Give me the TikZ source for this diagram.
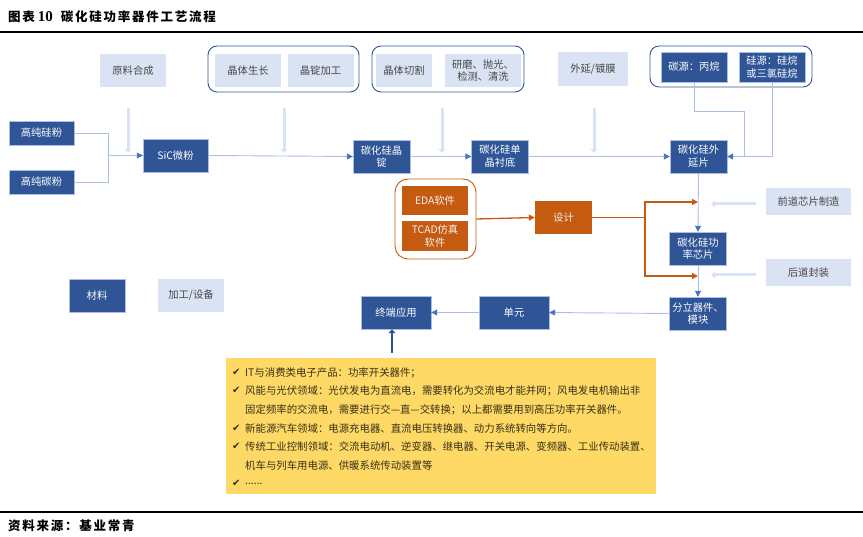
\documentclass[tikz,border=0pt]{standalone}
\usepackage{fontspec}
\setmainfont{Noto Sans CJK SC}
\newfontfamily\titlefont[BoldFeatures={LetterSpace=14}]{Noto Sans CJK SC}
\newfontfamily\digitfont{Liberation Serif}
\newfontfamily\tickfont{DejaVu Sans}
\usetikzlibrary{arrows.meta}

% full width punctuation
\newcommand\fwcolon{\char"FF1A\relax}
\newcommand\fwcomma{\char"FF0C\relax}
\newcommand\fwsemi{\char"FF1B\relax}

\definecolor{darkblue}{HTML}{2F5597}
\definecolor{paleblue}{HTML}{DAE3F3}
\definecolor{burnt}{HTML}{C55A11}
\definecolor{linkblue}{HTML}{A9BFE6}
\definecolor{tipblue}{HTML}{4472C4}
\definecolor{noteyellow}{HTML}{FFD966}

\tikzset{
  boxtext/.style={inner sep=0pt, align=center, font=\fontsize{10.3}{12.8}\selectfont},
  darkbox/.style={boxtext, fill=darkblue, draw=linkblue, line width=0.4pt, text=white!88!paleblue},
  palebox/.style={boxtext, fill=paleblue, text=black!72},
  burntbox/.style={boxtext, fill=burnt, text=white!92!burnt},
  groupbox/.style={rounded corners=9pt, line width=0.9pt, inner sep=0pt},
  flow/.style={line width=0.9pt, draw=linkblue},
  flowtip/.style={flow, -{Triangle[length=6pt, width=6pt, color=tipblue]}},
  palearrow/.style={line width=3pt, draw=paleblue, -{Triangle[length=4pt, width=7pt]}},
  burntline/.style={line width=1.3pt, draw=burnt},
  burnttip/.style={burntline, -{Triangle[length=6pt, width=6pt]}},
  wide/.style={minimum width=66pt, minimum height=33pt},
  narrow/.style={minimum width=57pt, minimum height=33pt},
  flat/.style={minimum width=65pt, minimum height=24pt},
  headtext/.style={inner sep=0pt, anchor=west, font=\fontsize{12.5}{14}\titlefont\bfseries},
  notetext/.style={inner sep=0pt, anchor=west, text=black!78!noteyellow, font=\fontsize{10.4}{12}\selectfont},
}

\begin{document}
\begin{tikzpicture}[x=1pt, y=-1pt]
  \useasboundingbox (0, 0) rectangle (863, 537);

  % title and rules
  \node[headtext] (title) at (8, 17) {图表\hspace{3pt}{\digitfont\fontsize{15}{15}\selectfont 10}\hspace{8pt}碳化硅功率器件工艺流程};
  \coordinate (topl) at (0, 32);
  \coordinate (topr) at (863, 32);
  \coordinate (botl) at (0, 512);
  \coordinate (botr) at (863, 512);
  \draw[line width=1.6pt] (topl) -- (topr);
  \draw[line width=1.6pt] (botl) -- (botr);
  \node[headtext] (source) at (8, 526) {资料来源\fwcolon 基业常青};

  % rounded groups
  \node[groupbox, draw=darkblue, minimum width=151pt, minimum height=46pt] (growgroup) at (283.5, 69) {};
  \node[groupbox, draw=darkblue, minimum width=152pt, minimum height=46pt] (cutgroup) at (448, 69) {};
  \node[groupbox, draw=darkblue, minimum width=162pt, minimum height=41pt] (gasgroup) at (731, 66.5) {};
  \node[groupbox, draw=burnt, rounded corners=13pt, minimum width=81pt, minimum height=80pt] (softgroup) at (435.5, 219) {};

  % process steps on top
  \node[palebox, wide] (raw) at (133, 70.5) {原料合成};
  \node[palebox, wide] (grow) at (248, 70.5) {晶体生长};
  \node[palebox, wide] (shape) at (320.5, 70.5) {晶锭加工};
  \node[palebox, minimum width=56pt, minimum height=33pt] (cut) at (404, 70.5) {晶体切割};
  \node[palebox, minimum width=76pt, minimum height=33pt] (polish) at (483, 70.5) {研磨、抛光、\\检测、清洗};
  \node[palebox, minimum width=70pt, minimum height=34pt] (coat) at (593, 69) {外延/镀膜};
  \node[darkbox, minimum width=66pt, minimum height=30pt] (csource) at (694, 67) {碳源\fwcolon 丙烷};
  \node[darkbox, minimum width=66pt, minimum height=30pt] (sisource) at (772, 67) {硅源\fwcolon 硅烷\\或三氯硅烷};

  % main chain
  \node[darkbox, flat] (sipowder) at (41.5, 133) {高纯硅粉};
  \node[darkbox, flat] (cpowder) at (41.5, 182) {高纯碳粉};
  \node[darkbox, wide, minimum width=65pt] (sic) at (175.5, 155.5) {SiC微粉};
  \node[darkbox, narrow] (ingot) at (381.5, 156.5) {碳化硅晶\\锭};
  \node[darkbox, narrow] (wafer) at (500, 156.5) {碳化硅单\\晶衬底};
  \node[darkbox, narrow] (epi) at (698.5, 156.5) {碳化硅外\\延片};
  \node[darkbox, narrow] (chip) at (698, 248.5) {碳化硅功\\率芯片};
  \node[darkbox, narrow] (module) at (698, 313.5) {分立器件、\\模块};
  \node[darkbox, minimum width=70pt, minimum height=33pt] (unit) at (514, 312.5) {单元};
  \node[darkbox, minimum width=70pt, minimum height=33pt] (enduse) at (396, 312.5) {终端应用};

  % side steps
  \node[palebox, minimum width=85pt, minimum height=27pt] (front) at (808.5, 201.5) {前道芯片制造};
  \node[palebox, minimum width=85pt, minimum height=27pt] (back) at (808.5, 272.5) {后道封装};

  % design branch
  \node[burntbox, minimum width=66pt, minimum height=29pt] (eda) at (435, 200.5) {EDA软件};
  \node[burntbox, minimum width=66pt, minimum height=30pt] (tcad) at (435, 236) {TCAD仿真\\软件};
  \node[burntbox, narrow] (design) at (563.5, 217.5) {设计};

  % legend
  \node[darkbox, minimum width=56pt, minimum height=33pt] (material) at (97, 295.5) {材料};
  \node[palebox, wide] (equipment) at (191, 295.5) {加工/设备};

  % powders into the chain
  \coordinate (mix) at (108, 155.5);
  \draw[flow] (sipowder.east) -| (mix);
  \draw[flow] (cpowder.east) -| (mix);
  \draw[flowtip] (mix) -- (sic.west);
  \draw[flowtip] (sic.east) -- (ingot.west);
  \draw[flowtip] (ingot.east) -- (wafer.west);
  \draw[flowtip] (wafer.east) -- (epi.west);
  \draw[flowtip] (epi.south) -- (chip.north);
  \draw[flowtip] (chip.south) -- (module.north);
  \draw[flowtip] (module.west) -- (unit.east);
  \draw[flowtip] (unit.west) -- (enduse.east);

  % gas sources
  \coordinate (cbend) at (744, 111);
  \coordinate (cmerge) at (744, 156.5);
  \draw[flow] (csource.south) |- (cbend) -- (cmerge);
  \draw[flowtip] (sisource.south) |- (epi.east);

  % pale arrows down to the chain
  \foreach \x in {128, 284, 442, 594} {
    \coordinate (from\x) at (\x, 108);
    \coordinate (to\x) at (\x, 153);
    \draw[palearrow] (from\x) -- (to\x);
  }

  % pale arrows from the side steps
  \coordinate (frontend) at (711, 204);
  \coordinate (backend) at (711, 275);
  \coordinate (frontstart) at (756, 204);
  \coordinate (backstart) at (756, 275);
  \draw[palearrow] (frontstart) -- (frontend);
  \draw[palearrow] (backstart) -- (backend);

  % design arrows
  \coordinate (split) at (645, 217.5);
  \coordinate (chipin) at (698, 202);
  \coordinate (packin) at (698, 276);
  \draw[burnttip] (softgroup.east) -- (design.west);
  \draw[burntline] (design.east) -- (split);
  \draw[burnttip] (split) |- (chipin);
  \draw[burnttip] (split) |- (packin);

  % application note
  \node[fill=noteyellow, inner sep=0pt, minimum width=430pt, minimum height=136pt] (note) at (441, 426) {};
  \coordinate (noteup) at (392, 353);
  \draw[line width=2.5pt, draw=darkblue, -{Triangle[length=4pt, width=7pt]}] (noteup) -- (enduse.south -| noteup);

  \foreach \y/\line in {
    373/{IT与消费类电子产品\fwcolon 功率开关器件\fwsemi},
    391/{风能与光伏领域\fwcolon 光伏发电为直流电\fwcomma 需要转化为交流电才能并网\fwsemi 风电发电机输出非},
    429/{新能源汽车领域\fwcolon 电源充电器、直流电压转换器、动力系统转向等方向。},
    447/{传统工业控制领域\fwcolon 交流电动机、逆变器、继电器、开关电源、变频器、工业传动装置、},
    484/{......}} {
    \node[notetext, font=\fontsize{10}{10}\tickfont] (tick\y) at (232, \y-1) {✔};
    \node[notetext] (item\y) at (245, \y) {\line};
  }
  \node[notetext] (item410) at (245, 410) {固定频率的交流电\fwcomma 需要进行交—直—交转换\fwsemi 以上都需要用到高压功率开关器件。};
  \node[notetext] (item466) at (245, 466) {机车与列车用电源、供暖系统传动装置等};
\end{tikzpicture}
\end{document}
